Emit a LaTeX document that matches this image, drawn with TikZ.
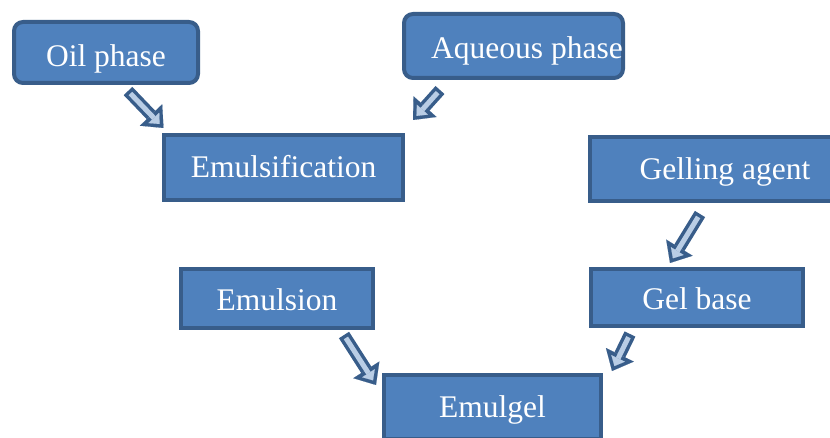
\documentclass[tikz,border=0pt]{standalone}
\usepackage{fontspec}
\setmainfont{Liberation Serif}
\usepackage{xcolor}
\usepackage{tikz}
\usetikzlibrary{arrows.meta,positioning}
\definecolor{boxfill}{HTML}{4F81BD}
\definecolor{boxline}{HTML}{385D8A}
\definecolor{arrowfill}{HTML}{B9CDE5}

\begin{document}
\begin{tikzpicture}[x=1pt,y=-1pt]
    \tikzstyle{process box}=[rectangle,draw=boxline,fill=boxfill,line width=4pt,text=white,inner sep=0pt,
        text height=27pt,text depth=6pt,font=\fontsize{31.5}{36}\selectfont]
    \tikzstyle{input box}=[process box, rounded corners=9pt]
    \tikzstyle{flow arrow}=[draw=boxline,line width=12pt,-{Triangle[length=18pt,width=31pt,line width=0.1pt]},
        postaction={draw=arrowfill,line width=5pt,shorten <=3.5pt,shorten >=5.5pt,-{Triangle[length=8.5pt,width=15pt,line width=0.1pt]}}]

    \useasboundingbox (0,0) rectangle (830,438);

    % Draw the input nodes
    \node[input box, minimum width=184pt, minimum height=61pt, text height=34pt] (oil) at (106,52.5) {Oil phase};
    \node[input box, minimum width=219pt, minimum height=64pt, text height=31pt] (aqueous) at (513.5,46) {\hspace*{27pt}Aqueous phase};
    \node[process box, minimum width=270pt, minimum height=64pt] (gelling) at (725,169) {Gelling agent};

    % Draw the intermediate nodes
    \node[process box, minimum width=239pt, minimum height=65pt] (emulsification) at (283.5,167.5) {Emulsification};
    \node[process box, minimum width=192pt, minimum height=59pt, text height=30pt] (emulsion) at (277,298.5) {Emulsion};
    \node[process box, minimum width=212pt, minimum height=57pt, text height=30pt] (gelbase) at (697,297.5) {Gel base};

    % Draw the output node
    \node[process box, minimum width=217pt, minimum height=64pt] (emulgel) at (492.5,407) {Emulgel};

    % Connect the phases with the emulsification step
    \draw[flow arrow] ([xshift=22pt,yshift=-6pt]oil.south) -- ([xshift=1.5pt,yshift=5pt]emulsification.north west);
    \draw[flow arrow] ([xshift=38pt,yshift=-10pt]aqueous.south west) -- ([xshift=8pt,yshift=13pt]emulsification.north east);

    % Connect the gelling agent with the gel base
    \draw[flow arrow] ([xshift=112pt,yshift=-11pt]gelling.south west) -- ([xshift=-27pt,yshift=4pt]gelbase.north);

    % Connect emulsion and gel base with the emulgel
    \draw[flow arrow] ([xshift=-31pt,yshift=-5pt]emulsion.south east) -- ([xshift=-6pt,yshift=-12pt]emulgel.north west);
    \draw[flow arrow] ([xshift=41pt,yshift=-6pt]gelbase.south west) -- ([xshift=9pt,yshift=2pt]emulgel.north east);
\end{tikzpicture}
\end{document}
